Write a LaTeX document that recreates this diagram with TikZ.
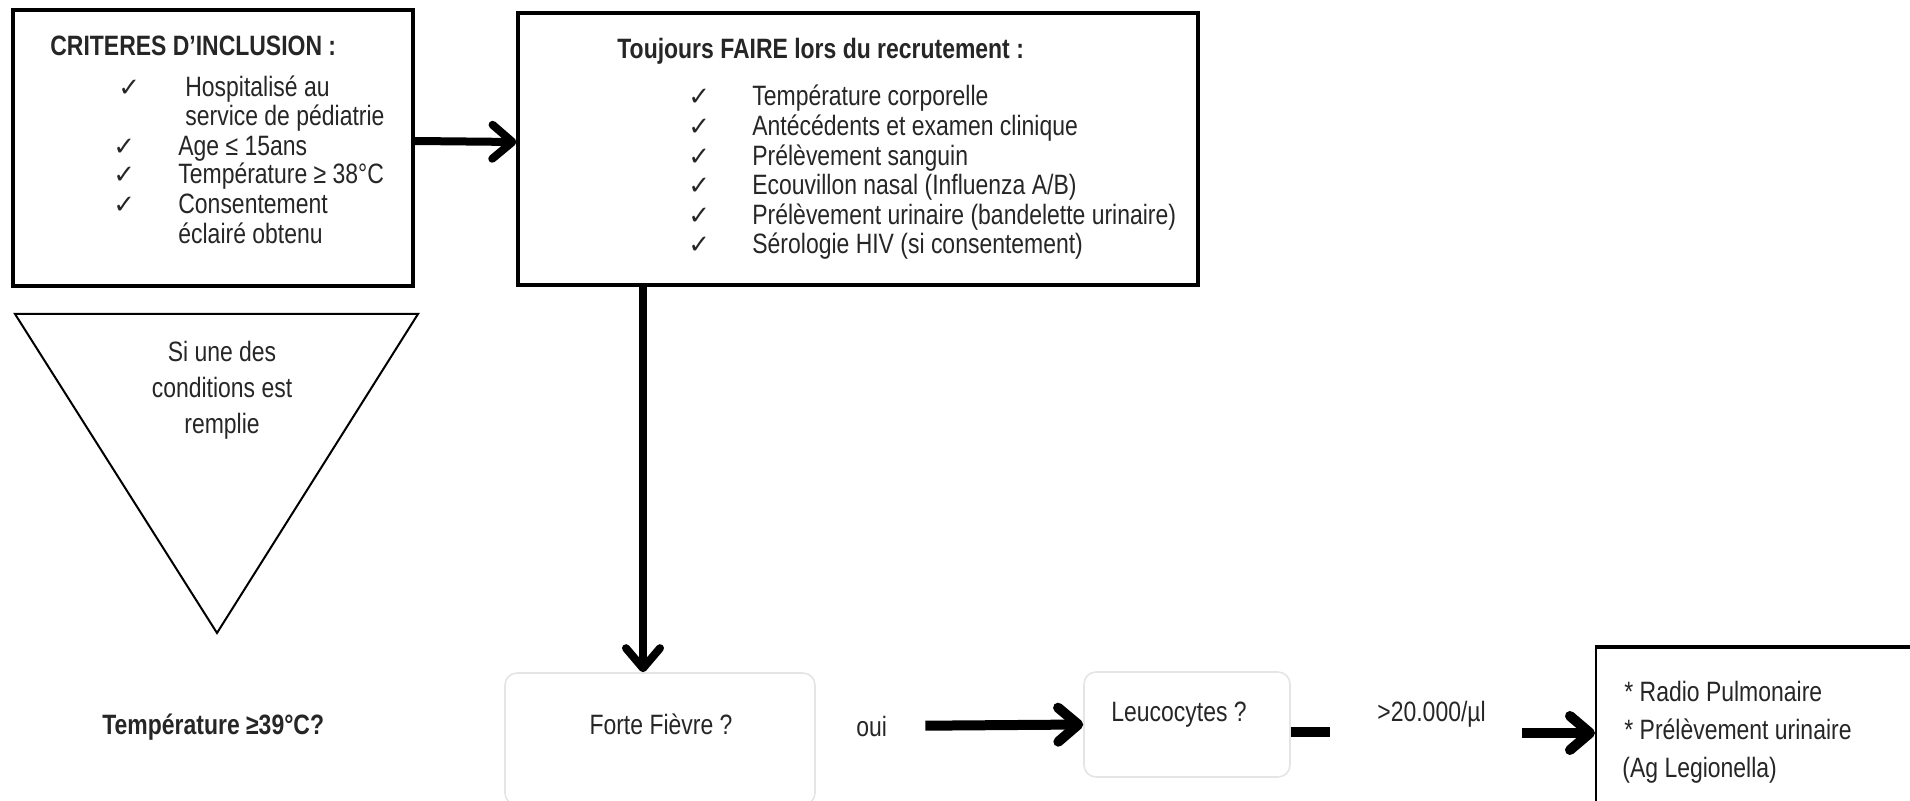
\documentclass[tikz,border=0pt]{standalone}
\usepackage{fontspec}
\setmainfont[FakeStretch=0.82]{Liberation Sans}
\newfontfamily\checkfont{DejaVu Sans}
\usepackage{tikz}
\usetikzlibrary{arrows.meta, positioning, calc}

\newcommand{\ok}{{\checkfont\fontsize{13}{13}\selectfont ✓}}

\begin{document}
\begin{tikzpicture}[x=0.5pt, y=-0.5pt,
    every node/.style={font=\fontsize{14}{15}\selectfont, text=black!85, inner sep=0pt},
    txt/.style={anchor=base west},
    head/.style={anchor=base west, font=\bfseries\fontsize{14}{15}\selectfont},
    bigbox/.style={draw, line width=1.6pt, fill=white},
    softbox/.style={draw=black!10, line width=0.8pt, rounded corners=6pt, fill=white},
    bigarrow/.style={line width=4pt, -{Straight Barb[length=10pt, width=17pt, round]}},
    bar/.style={line width=5pt}]
    \useasboundingbox (0,0) rectangle (1910,801);

    % inclusion criteria
    \node[bigbox, minimum width=200pt, minimum height=138pt] (crit) at (213,148) {};
    \node[head] (critT) at (50,56) {CRITERES D'INCLUSION :};
    \foreach \x/\y in {118/97, 113/156, 113/184, 113/214}
        \node[txt] at (\x,\y) {\ok};
    \node[txt] (hosp1) at (185,97) {Hospitalisé au};
    \node[txt] (hosp2) at (185,126) {service de pédiatrie};
    \node[txt] (age) at (178,156) {Age ≤ 15ans};
    \node[txt] (temp38) at (178,184) {Température ≥ 38°C};
    \node[txt] (cons1) at (178,214) {Consentement};
    \node[txt] (cons2) at (178,244) {éclairé obtenu};

    % always do
    \node[bigbox, minimum width=340pt, minimum height=136pt] (todo) at (858,149) {};
    \node[head] (todoT) at (617,59) {Toujours FAIRE lors du recrutement :};
    \foreach \t [count=\i] in {Température corporelle, Antécédents et examen clinique,
        Prélèvement sanguin, Ecouvillon nasal (Influenza A/B),
        Prélèvement urinaire (bandelette urinaire), Sérologie HIV (si consentement)} {
        \node[txt] at (688,76.4+29.6*\i) {\ok};
        \node[txt] (todo\i) at (752,76.4+29.6*\i) {\t};
    }

    % triangle
    \draw[line width=1pt] (15,314) -- (418,314) -- (217,633) -- cycle;
    \node[align=center, anchor=north, font=\fontsize{14}{18}\selectfont] (cond) at (222,341)
        {Si une des\\conditions est\\remplie};

    % bottom row
    \node[head] (temp39) at (102,734) {Température ≥39°C?};
    \node[softbox, minimum width=155pt, minimum height=66pt] (fort) at (660,739) {};
    \node[anchor=base] (fortT) at (661,734) {Forte Fièvre ?};
    \node[txt] (oui) at (856,736) {oui};
    \node[softbox, minimum width=103pt, minimum height=52.5pt] (leuco) at (1187,724.5) {};
    \node[anchor=base] (leucoT) at (1179,721) {Leucocytes ?};
    \node[txt] (seuil) at (1377,721) {>20.000/µl};
    \node[draw, line width=1pt, fill=white, minimum width=200pt, minimum height=100pt] (radio) at (1796,748) {};
    \draw[line width=2pt] (radio.north west) -- (radio.north east);
    \node[txt] (radio1) at (1624,701) {* Radio Pulmonaire};
    \node[txt] (radio2) at (1624,739) {* Prélèvement urinaire};
    \node[txt] (radio3) at (1622,777) {(Ag Legionella)};

    % arrows
    \draw[bigarrow] ([yshift=3.5pt]crit.east) -- ([yshift=3.5pt]todo.west);
    \draw[bigarrow] ([xshift=-8.5pt]fort.north |- todo.south) -- ([xshift=-8.5pt]fort.north);
    \draw[bigarrow, line width=5pt, shorten <=19pt] (oui.east) -- (leuco.west);
    \coordinate (d1) at (1330,732);
    \draw[bar] (d1 -| leuco.east) -- (d1);
    \coordinate (a3) at (1522,733);
    \draw[bigarrow, line width=5pt] (a3) -- (a3 -| radio.west);
\end{tikzpicture}
\end{document}
